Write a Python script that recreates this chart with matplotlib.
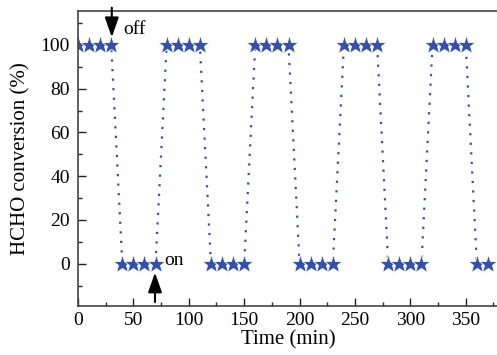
import matplotlib
matplotlib.use("Agg")
import matplotlib.pyplot as plt
from matplotlib.ticker import MultipleLocator

time_min = [0, 10, 20, 30, 40, 50, 60, 70, 80, 90, 100, 110, 120, 130, 140, 150,
            160, 170, 180, 190, 200, 210, 220, 230, 240, 250, 260, 270,
            280, 290, 300, 310, 320, 330, 340, 350, 360, 370]
conversion = [100, 100, 100, 100, 0, 0, 0, 0, 100, 100, 100, 100, 0, 0, 0, 0,
              100, 100, 100, 100, 0, 0, 0, 0, 100, 100, 100, 100,
              0, 0, 0, 0, 100, 100, 100, 100, 0, 0]
x_ticks = [0, 50, 100, 150, 200, 250, 300, 350]
y_ticks = [0, 20, 40, 60, 80, 100]

plt.rcParams['font.family'] = ['Liberation Serif', 'DejaVu Serif']
color = '#3550a8'

fig = plt.figure(figsize=(4.97, 3.55), dpi=100)
W, H = 497, 355
left, right, top, bottom = 78, 499, 11, 306
ax = fig.add_axes([left / W, (H - bottom) / H, (right - left) / W, (bottom - top) / H])

ax.plot(time_min, conversion, linestyle=(0, (1, 3.3)), linewidth=1.6, color=color,
        marker='*', markersize=14, markeredgewidth=0.6, markerfacecolor=color,
        markeredgecolor='white')

ax.set_xlim(0, 380)
ax.set_ylim(-19.3, 115.5)
ax.set_xticks(x_ticks)
ax.set_yticks(y_ticks)
ax.xaxis.set_minor_locator(MultipleLocator(25))
ax.yaxis.set_minor_locator(MultipleLocator(10))
ax.tick_params(which='major', direction='in', length=6, width=1, labelsize=14, colors='#222222')
ax.tick_params(which='minor', direction='in', length=3, width=1, colors='#222222')
ax.tick_params(axis='x', pad=4)
ax.tick_params(axis='y', pad=6)
ax.tick_params(labelcolor='black')
for s in ['left', 'bottom', 'top']:
    ax.spines[s].set_linewidth(1.2)
    ax.spines[s].set_color('#444444')
ax.spines['right'].set_visible(False)

ax.set_xlabel('Time (min)', fontsize=15, labelpad=1)
ax.set_ylabel('HCHO conversion (%)', fontsize=15, labelpad=7)

ax.annotate('', xy=(30.5, 103.5), xytext=(30.5, 117),
            arrowprops=dict(arrowstyle='-|>,head_length=1.2,head_width=0.42',
                            color='black', lw=1.5, shrinkA=0, shrinkB=0),
            annotation_clip=False)
ax.text(40.5, 107, 'off', fontsize=14, ha='left', va='center')
ax.annotate('', xy=(69.5, -4), xytext=(69.5, -17.5),
            arrowprops=dict(arrowstyle='-|>,head_length=1.2,head_width=0.42',
                            color='black', lw=1.5, shrinkA=0, shrinkB=0))
ax.text(78, 1.5, 'on', fontsize=14, ha='left', va='center')

fig.savefig('out.png', dpi=100)
